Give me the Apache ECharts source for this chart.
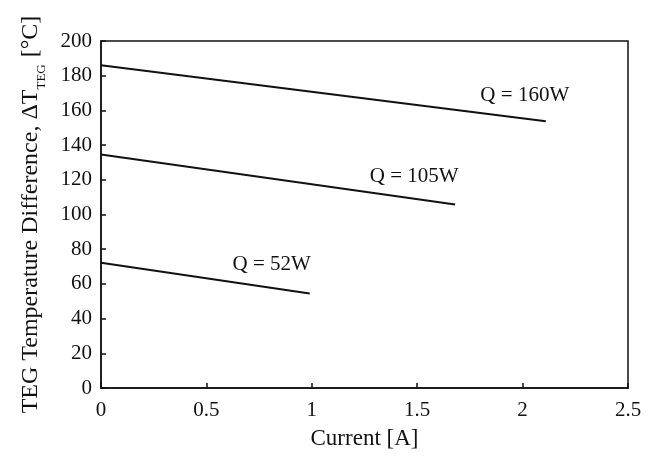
<!DOCTYPE html>
<html>
<head>
<meta charset="UTF-8">
<script src="https://cdn.jsdelivr.net/npm/echarts@6/dist/echarts.min.js"></script>
<style>
    html, body { margin: 0; padding: 0; background: #fff; }
    #chartDiv { width: 658px; height: 463px; }
</style>
</head>
<body>
<div id="chartDiv"></div>
<script type="text/javascript">
    // data
    var xTicks = [0, 0.5, 1, 1.5, 2, 2.5];
    var yTicks = [0, 20, 40, 60, 80, 100, 120, 140, 160, 180, 200];
    var seriesNames = ['Q = 160W', 'Q = 105W', 'Q = 52W'];
    var current160 = [0, 2.11];
    var dT160 = [186, 153.7];
    var current105 = [0, 1.68];
    var dT105 = [134.6, 105.8];
    var current52 = [0, 0.99];
    var dT52 = [72.2, 54.5];

    var font = 'Liberation Serif';

    var makeSeries = function (name, xs, ys, labelOffset) {
        var data = [];
        for (var i = 0; i < xs.length; i++) {
            data.push([xs[i], ys[i]]);
        }
        // label sits above the last point
        data[data.length - 1] = {
            value: data[data.length - 1],
            label: {
                show: true,
                position: 'top',
                offset: labelOffset,
                formatter: name,
                fontFamily: font,
                fontSize: 21,
                color: '#111'
            }
        };
        return {
            name: name,
            type: 'line',
            data: data,
            symbol: 'circle',
            symbolSize: 0,
            showSymbol: true,
            silent: true,
            lineStyle: { color: '#111', width: 2 }
        };
    };

    var chart = echarts.init(document.getElementById('chartDiv'));
    var option = {
        animation: false,
        grid: {
            left: 101,
            right: 30,
            top: 41,
            bottom: 75,
            show: true,
            borderColor: '#111',
            borderWidth: 1.5
        },
        xAxis: {
            type: 'value',
            min: xTicks[0],
            max: xTicks[xTicks.length - 1],
            interval: 0.5,
            name: 'Current [A]',
            nameLocation: 'middle',
            nameGap: 39,
            nameTextStyle: { fontFamily: font, fontSize: 23, color: '#111' },
            axisLine: { show: true, lineStyle: { color: '#111', width: 1.5 } },
            axisTick: { show: true, inside: true, length: 5, lineStyle: { color: '#111', width: 1.5 } },
            axisLabel: { fontFamily: font, fontSize: 21, color: '#111', margin: 12 },
            splitLine: { show: false }
        },
        yAxis: {
            type: 'value',
            min: yTicks[0],
            max: yTicks[yTicks.length - 1],
            interval: 20,
            name: '{t|TEG Temperature Difference, ΔT}{s|TEG}{t| [°C]}',
            nameLocation: 'middle',
            nameGap: 58,
            nameTextStyle: {
                fontFamily: font,
                fontSize: 24,
                color: '#111',
                rich: {
                    t: { fontFamily: font, fontSize: 24, color: '#111', lineHeight: 28, verticalAlign: 'bottom' },
                    s: { fontFamily: font, fontSize: 13, color: '#111', lineHeight: 28, verticalAlign: 'bottom', padding: [0, 1, -5, 0] }
                }
            },
            axisLine: { show: true, lineStyle: { color: '#111', width: 1.5 } },
            axisTick: { show: true, inside: true, length: 5, lineStyle: { color: '#111', width: 1.5 } },
            axisLabel: { fontFamily: font, fontSize: 21, color: '#111', margin: 9 },
            splitLine: { show: false }
        },
        series: [
            makeSeries(seriesNames[0], current160, dT160, [-21, -10]),
            makeSeries(seriesNames[1], current105, dT105, [-41, -12]),
            makeSeries(seriesNames[2], current52, dT52, [-38, -13])
        ]
    };
    chart.setOption(option);
</script>
</body>
</html>
